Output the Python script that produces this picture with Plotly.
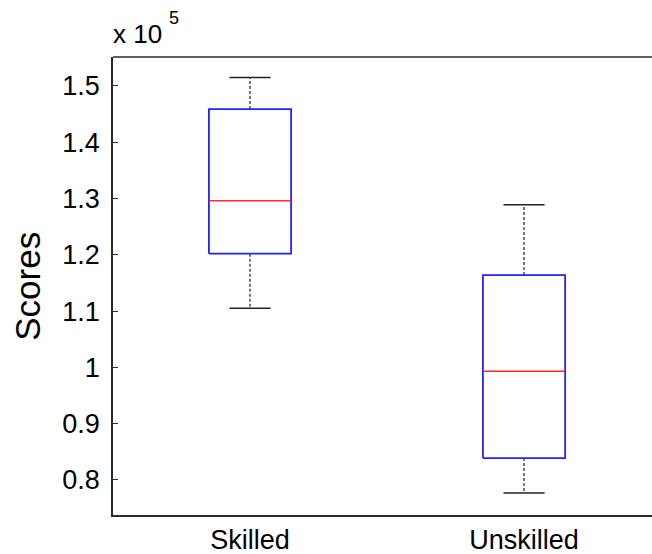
import plotly.graph_objects as go

# ---- data (scores) ----
categories = ["Skilled", "Unskilled"]
lower_whisker = [110500, 77700]
q1 = [120200, 83900]
median = [129600, 99300]
q3 = [145900, 116400]
upper_whisker = [151500, 128900]

y_tick_vals = [80000, 90000, 100000, 110000, 120000, 130000, 140000, 150000]
y_tick_text = ["0.8", "0.9", "1", "1.1", "1.2", "1.3", "1.4", "1.5"]

BOX_HALF = 0.15
CAP_HALF = 0.075
FONT = "Liberation Sans, Arial, Helvetica, sans-serif"

fig = go.Figure()

for i, cat in enumerate(categories):
    x = i + 1
    # whiskers (dashed)
    fig.add_trace(go.Scatter(
        x=[x, x, None, x, x],
        y=[q3[i], upper_whisker[i], None, q1[i], lower_whisker[i]],
        mode="lines", line=dict(color="#222222", width=1.2, dash="3px,2px"),
        showlegend=False, hoverinfo="skip"))
    # caps
    fig.add_trace(go.Scatter(
        x=[x - CAP_HALF, x + CAP_HALF, None, x - CAP_HALF, x + CAP_HALF],
        y=[upper_whisker[i], upper_whisker[i], None, lower_whisker[i], lower_whisker[i]],
        mode="lines", line=dict(color="#222222", width=1.6),
        showlegend=False, hoverinfo="skip"))
    # box
    fig.add_trace(go.Scatter(
        x=[x - BOX_HALF, x + BOX_HALF, x + BOX_HALF, x - BOX_HALF, x - BOX_HALF],
        y=[q1[i], q1[i], q3[i], q3[i], q1[i]],
        mode="lines", line=dict(color="#2323ff", width=1.8),
        showlegend=False, name=cat))
    # median
    fig.add_trace(go.Scatter(
        x=[x - BOX_HALF, x + BOX_HALF],
        y=[median[i], median[i]],
        mode="lines", line=dict(color="#ff2a2a", width=1.5),
        showlegend=False, hoverinfo="skip"))

fig.update_layout(
    width=652, height=554,
    margin=dict(l=113, r=0, t=57, b=39),
    paper_bgcolor="white", plot_bgcolor="white",
    font=dict(family=FONT, color="black"),
    xaxis=dict(
        range=[0.5, 2.467], tickvals=[1, 2], ticktext=categories,
        showgrid=False, zeroline=False, showline=True, linecolor="#2a2a2a",
        linewidth=1.5, ticks="", tickfont=dict(size=27, family=FONT, color="black"),
        automargin=False,
    ),
    yaxis=dict(
        range=[73780, 155150], tickvals=y_tick_vals, ticktext=y_tick_text,
        showgrid=False, zeroline=False, showline=True, linecolor="#2a2a2a",
        linewidth=1.5, ticks="inside", ticklen=5, tickcolor="#2a2a2a",
        tickfont=dict(size=27, family=FONT, color="black"),
        ticklabelstandoff=6, automargin=False,
    ),
    shapes=[dict(type="line", xref="paper", yref="paper", x0=0, x1=1, y0=1, y1=1,
                 line=dict(color="#2a2a2a", width=1.5))],
    annotations=[
        dict(text="x 10", xref="paper", yref="paper", x=0, y=1,
             xanchor="left", yanchor="bottom", yshift=6, xshift=-2, showarrow=False,
             font=dict(size=26, family=FONT, color="black")),
        dict(text="5", xref="paper", yref="paper", x=0, y=1,
             xanchor="left", yanchor="bottom", yshift=27, xshift=54, showarrow=False,
             font=dict(size=18, family=FONT, color="black")),
        dict(text="Scores", xref="paper", yref="paper", x=-0.16, y=0.5,
             xanchor="center", yanchor="middle", textangle=-90, showarrow=False,
             font=dict(size=35, family=FONT, color="black")),
    ],
)

fig.write_html("out.html", config={"displayModeBar": False},
               post_script="document.body.style.margin='0';")
